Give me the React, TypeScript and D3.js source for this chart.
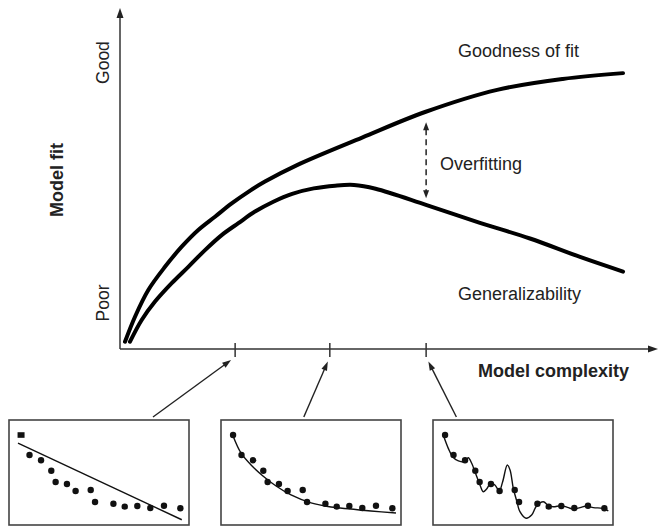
import React from 'react';
import * as d3 from 'd3';

const W = 661;
const H = 528;

// Main chart: model complexity (0-100) vs model fit (0-100)
const goodnessX = [0.93, 2.79, 5.26, 8.36, 11.47, 14.55, 17.66, 20.76, 23.85, 26.95, 33.0, 45.0, 56.7, 70.1, 82.3, 93.5];
const goodnessY = [2.14, 9.47, 17.3, 24.1, 30.0, 34.9, 38.8, 42.7, 46.1, 49.1, 54.0, 62.0, 69.5, 76.0, 79.2, 80.9];
const generalX = [1.86, 4.03, 6.51, 9.61, 12.7, 15.8, 18.9, 22.0, 25.1, 28.5, 32.0, 36.0, 40.0, 43.5, 47.5, 57.0, 66.9, 76.2, 85.5, 93.5];
const generalY = [2.14, 8.5, 13.9, 19.3, 24.1, 29.0, 33.4, 36.9, 40.3, 43.2, 45.5, 47.1, 47.9, 48.1, 47.0, 42.2, 37.0, 32.4, 27.0, 22.7];
const complexityTicks = [21.4, 39.0, 56.9];
const overfitX = 56.9;
const overfitY = [66.5, 44.2];
const fitLabels = ['Poor', 'Good'];
const fitLabelY = [13.5, 84];

// Insets (each in its own 0-100 x 0-100 domain)
const insetNames = ['underfit', 'goodfit', 'overfit'];
const pointerFrom = [0.8, 0.46, 0.13];
const sampleX = [6.7, 11.4, 17.8, 23.5, 25.9, 32.2, 37.0, 45.4, 47.8, 58.0, 64.3, 71.3, 78.5, 86.1, 95.2];
const sampleY = [85.7, 66.7, 61.6, 51.7, 41.0, 39.0, 32.4, 33.3, 21.9, 20.3, 17.5, 18.1, 16.2, 18.4, 15.9];
const linearFitX = [5, 96];
const linearFitY = [78, 5];
const smoothFitX = [6.7, 11.1, 16.7, 23.3, 30.6, 38.9, 50, 61.1, 72.2, 83.3, 97.2];
const smoothFitY = [84.8, 68.6, 57.1, 46.7, 37.1, 28.6, 21, 17.1, 15.2, 13.3, 11.4];
const wigglyFitX = [5.7, 8.5, 10.9, 14.1, 17.8, 19.6, 21.5, 23.3, 26.1, 27.9, 29.8, 32.1, 34.4, 36.8, 38.7, 41.3, 42.8, 44.6, 46.5, 48.3, 51.7, 54.8, 57.6, 61.3, 64.1, 66.8, 71.5, 75.2, 77.9, 81.7, 85.4, 89.1, 94.6, 97.4];
const wigglyFitY = [85.7, 73, 65, 61, 60.3, 64.1, 58.8, 50.8, 38.1, 31.7, 34.3, 39.7, 38.1, 32.4, 41.2, 57.1, 52.4, 35, 22.9, 12.7, 6.4, 9.5, 18.4, 22.2, 18.4, 17.4, 18.4, 16.5, 15.2, 16.5, 18.1, 16.5, 15.9, 13.3];

const FONT = '"Liberation Sans", Arial, Helvetica, sans-serif';
const TEXT = '#222';

function arrowHead(tipX: number, tipY: number, fromX: number, fromY: number, len = 9, half = 3.2) {
  const dx = tipX - fromX;
  const dy = tipY - fromY;
  const d = Math.hypot(dx, dy);
  const ux = dx / d, uy = dy / d;
  const bx = tipX - ux * len, by = tipY - uy * len;
  const px = -uy * half, py = ux * half;
  return `M${tipX},${tipY}L${bx + px},${by + py}L${bx - px},${by - py}Z`;
}

export default function App() {
  const x = d3.scaleLinear().domain([0, 100]).range([120, 658]);
  const y = d3.scaleLinear().domain([0, 100]).range([349, 8]);

  const line = d3
    .line<[number, number]>()
    .x((d) => x(d[0]))
    .y((d) => y(d[1]))
    .curve(d3.curveCatmullRom.alpha(0.5));

  const goodness = goodnessX.map((v, i) => [v, goodnessY[i]] as [number, number]);
  const general = generalX.map((v, i) => [v, generalY[i]] as [number, number]);

  const band = d3.scaleBand<string>().domain(insetNames).range([9, 613]).paddingInner(32 / 212).paddingOuter(0);
  const boxTop = 420;
  const boxH = 105;
  const bw = band.bandwidth();

  const axisY = y(0);
  const tickBottom = axisY + 8;

  const insetFits = [
    { xs: linearFitX, ys: linearFitY, curve: d3.curveLinear },
    { xs: smoothFitX, ys: smoothFitY, curve: d3.curveCatmullRom.alpha(0.5) },
    { xs: wigglyFitX, ys: wigglyFitY, curve: d3.curveCatmullRom.alpha(0.5) },
  ];

  return (
    <svg width={W} height={H} style={{ position: 'absolute', left: 0, top: 0, background: '#fff' }} fontFamily={FONT}>
      <rect x={0} y={0} width={W} height={H} fill="#fff" />
      {/* axes */}
      <line x1={x(0)} y1={axisY} x2={x(100) - 6} y2={axisY} stroke="#333" strokeWidth={1.5} />
      <path d={arrowHead(x(100), axisY, x(0), axisY, 10, 3.5)} fill="#222" />
      <line x1={x(0)} y1={axisY} x2={x(0)} y2={y(100) + 6} stroke="#333" strokeWidth={1.5} />
      <path d={arrowHead(x(0), y(100), x(0), axisY, 10, 3.5)} fill="#222" />
      {complexityTicks.map((t, i) => (
        <line key={i} x1={x(t)} x2={x(t)} y1={axisY - 6} y2={tickBottom} stroke="#333" strokeWidth={1.5} />
      ))}

      {/* curves */}
      <path d={line(goodness) || ''} fill="none" stroke="#000" strokeWidth={4} strokeLinecap="round" />
      <path d={line(general) || ''} fill="none" stroke="#000" strokeWidth={4} strokeLinecap="round" />

      {/* overfitting arrow */}
      <line x1={x(overfitX)} x2={x(overfitX)} y1={y(overfitY[0]) + 7} y2={y(overfitY[1]) - 7} stroke="#222" strokeWidth={1.5} strokeDasharray="6,4" />
      <path d={arrowHead(x(overfitX), y(overfitY[0]), x(overfitX), y(overfitY[1]), 8, 3)} fill="#222" />
      <path d={arrowHead(x(overfitX), y(overfitY[1]), x(overfitX), y(overfitY[0]), 8, 3)} fill="#222" />

      {/* labels */}
      <text x={458} y={57} fontSize={18} fill={TEXT}>Goodness of fit</text>
      <text x={440} y={170} fontSize={18} fill={TEXT}>Overfitting</text>
      <text x={458} y={300} fontSize={18} fill={TEXT}>Generalizability</text>
      <text x={478} y={377} fontSize={18} fontWeight="bold" fill={TEXT}>Model complexity</text>
      {fitLabels.map((l, i) => (
        <text key={l} transform={`translate(103,${y(fitLabelY[i])}) rotate(-90)`} textAnchor="middle" dominantBaseline="central" fontSize={17.5} fill={TEXT}>
          {l}
        </text>
      ))}
      <text transform="translate(57,180) rotate(-90)" textAnchor="middle" dominantBaseline="central" fontSize={18} fontWeight="bold" fill={TEXT}>
        Model fit
      </text>

      {/* pointers from insets to ticks */}
      {insetNames.map((n, i) => {
        const tx = x(complexityTicks[i]);
        const fx = (band(n) as number) + bw * pointerFrom[i];
        const fy = boxTop - 3;
        const dx = fx - tx, dy = fy - tickBottom;
        const d = Math.hypot(dx, dy);
        const tipX = tx + (dx / d) * 5;
        const tipY = tickBottom + (dy / d) * 5;
        return (
          <g key={n}>
            <line x1={fx} y1={fy} x2={tipX + (dx / d) * 6} y2={tipY + (dy / d) * 6} stroke="#222" strokeWidth={1.4} />
            <path d={arrowHead(tipX, tipY, fx, fy, 9, 3)} fill="#222" />
          </g>
        );
      })}

      {/* insets */}
      {insetNames.map((n, i) => {
        const left = band(n) as number;
        const ix = d3.scaleLinear().domain([0, 100]).range([left, left + bw]);
        const iy = d3.scaleLinear().domain([0, 100]).range([boxTop + boxH, boxTop]);
        const fit = insetFits[i];
        const fitLine = d3
          .line<[number, number]>()
          .x((d) => ix(d[0]))
          .y((d) => iy(d[1]))
          .curve(fit.curve);
        const pts = fit.xs.map((v, k) => [v, fit.ys[k]] as [number, number]);
        return (
          <g key={n}>
            <rect x={left} y={boxTop} width={bw} height={boxH} fill="#fff" stroke="#444" strokeWidth={1.6} />
            <path d={fitLine(pts) || ''} fill="none" stroke="#111" strokeWidth={1.4} />
            {sampleX.map((sx, k) =>
              i === 0 && k === 0 ? (
                <rect key={k} x={ix(sx) - 3.5} y={iy(sampleY[k]) - 2.8} width={7} height={5.6} fill="#111" />
              ) : (
                <circle key={k} cx={ix(sx)} cy={iy(sampleY[k])} r={3.2} fill="#111" />
              )
            )}
          </g>
        );
      })}
    </svg>
  );
}
